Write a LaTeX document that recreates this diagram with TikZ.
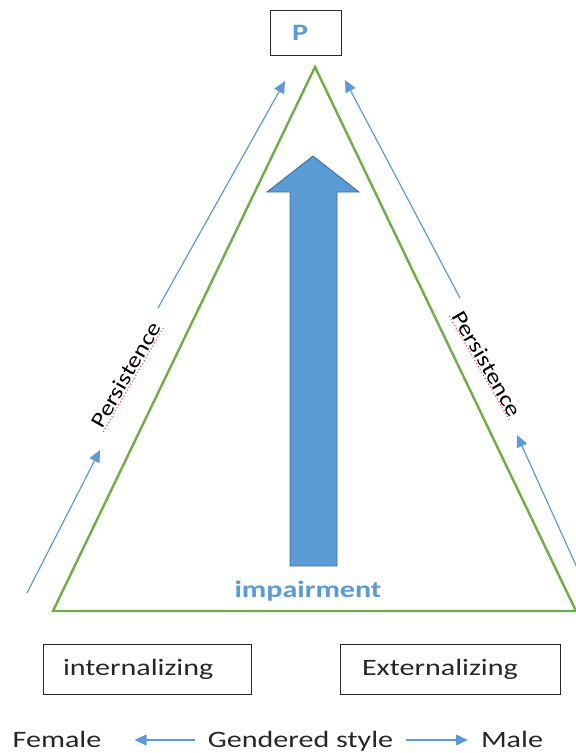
\documentclass[tikz,border=0pt]{standalone}
\usepackage{fontspec}
\setmainfont{Carlito}
\newfontfamily\labelfont[FakeStretch=1.28]{Carlito}
\newfontfamily\slantlabelfont[FakeStretch=1.2]{Carlito}
\usetikzlibrary{arrows.meta}
\definecolor{msblue}{HTML}{5B9BD5}
\definecolor{msblueedge}{HTML}{41719C}
\definecolor{msgreen}{HTML}{70AD47}
\definecolor{inkgrey}{HTML}{262626}

\begin{document}
\begin{tikzpicture}[x=1pt,y=-1pt,
  flow/.style={draw=msblue, line width=1.2pt, -{Triangle[length=12pt,width=11pt]}},
  side/.style={draw=msgreen, line width=2.4pt, line join=miter},
  bigarrow/.style={fill=msblue, draw=msblueedge, line width=0.9pt, line join=miter},
  txt/.style={font=\labelfont\fontsize{23.5}{28}\selectfont, text=inkgrey, inner sep=0pt},
  labelbox/.style={draw=inkgrey, line width=1pt, minimum height=50pt, inner xsep=20pt,
                   align=left, font=\labelfont\fontsize{23.5}{28}\selectfont, text=inkgrey},
  slanted/.style={font=\slantlabelfont\fontsize{21.5}{25}\selectfont, text=black, inner sep=1pt},
  spellmark/.style={draw=red!80, line width=1.1pt, dash pattern=on 1pt off 2.4pt}
]
\useasboundingbox (0,0) rectangle (576,753);

% top box
\node[labelbox, inner xsep=22pt, text width=27pt, minimum height=45pt,
      font=\labelfont\bfseries\fontsize{23.5}{28}\selectfont, text=msblue]
  (p) at (305.5,32.5) {P};

% triangle
\coordinate (apex) at (315,67);
\coordinate (bl) at (53,611);
\coordinate (br) at (576,611);
\draw[side] (apex) -- (bl) -- (br) -- cycle;

% central block arrow
\draw[bigarrow] (290,566) -- (290,192) -- (267,192) -- (313,156)
  -- (359,192) -- (337,192) -- (337,566) -- cycle;
\node[txt, font=\labelfont\bfseries\fontsize{23.5}{28}\selectfont, text=msblue]
  (imp) at (308,591) {impairment};

% persistence arrows, left side
\coordinate (l1s) at (27,593);
\coordinate (l1e) at (100,450);
\coordinate (l2s) at (158,308);
\coordinate (l2e) at (285,81);
\draw[flow] (l1s) -- (l1e);
\draw[flow] (l2s) -- (l2e);

% persistence arrows, right side
\coordinate (r1s) at (584,583);
\coordinate (r1e) at (517,435);
\coordinate (r2s) at (460,298);
\coordinate (r2e) at (345,80);
\draw[flow] (r1s) -- (r1e);
\draw[flow] (r2s) -- (r2e);

% slanted labels with spelling marks
\node[slanted, rotate=60] (persl) at (126,375) {Persistence};
\draw[spellmark] (persl.south west) -- (persl.south east);
\node[slanted, rotate=-60] (persr) at (487,364) {Persistence};
\draw[spellmark] (persr.south west) -- (persr.south east);

% bottom boxes
\node[labelbox, text width=168pt] (int) at (147,669) {internalizing};
\node[labelbox, inner xsep=22pt, text width=176pt] (ext) at (450,669) {Externalizing};

% gender axis
\node[txt, anchor=base] (fem) at (57,747) {Female};
\node[txt, anchor=base] (gs) at (300.5,747) {Gendered style};
\node[txt, anchor=base] (male) at (512,747) {Male};
\coordinate (axl) at ([yshift=7pt]gs.base west);
\coordinate (axr) at ([yshift=7pt]gs.base east);
\draw[flow, shorten <=13pt, shorten >=33pt] (axl) -- (axl -| fem.east);
\draw[flow, shorten <=13pt, shorten >=13pt] (axr) -- (axr -| male.west);
\end{tikzpicture}
\end{document}
